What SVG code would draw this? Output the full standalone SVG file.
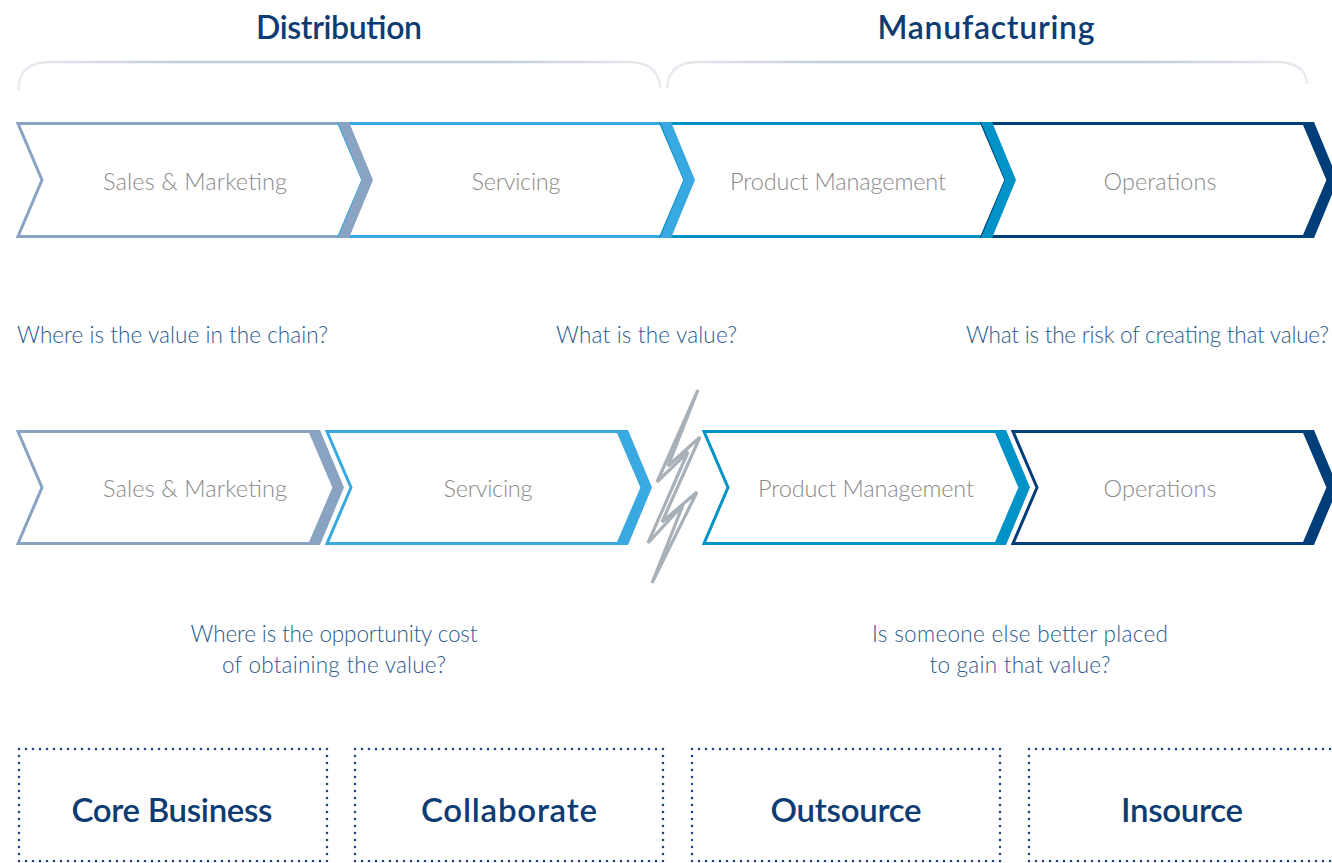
<svg xmlns="http://www.w3.org/2000/svg" width="1332" height="863" viewBox="0 0 1332 863">
<defs>
<linearGradient id="brace" x1="0" y1="0" x2="1" y2="0">
<stop offset="0" stop-color="#e8ebef"/>
<stop offset="0.25" stop-color="#c5ccd7"/>
<stop offset="0.75" stop-color="#c5ccd7"/>
<stop offset="1" stop-color="#e8ebef"/>
</linearGradient>
</defs>
<style>
.title{font-family:Lato,"Liberation Sans",sans-serif;font-weight:600;font-size:32px;fill:#0d3c73;text-anchor:middle}
.lbl{font-family:Lato,"Liberation Sans",sans-serif;font-weight:300;font-size:23.5px;fill:#8a8a8a;text-anchor:middle}
.q{font-family:Lato,"Liberation Sans",sans-serif;font-weight:300;font-size:22.5px;fill:#2c5a8c}
.box{fill:none;stroke:#1d4778;stroke-width:2.6;stroke-dasharray:0 7;stroke-linecap:round}
.bt{font-family:Lato,"Liberation Sans",sans-serif;font-weight:600;font-size:33px;fill:#0d3c73;text-anchor:middle}
.ol{fill:#fff;stroke-width:3;stroke-linejoin:miter}
.c1{stroke:#8aa3c2}.f1{fill:#8aa3c2}
.c2{stroke:#3aa9e1}.f2{fill:#3aa9e1}
.c3{stroke:#0093c7}.f3{fill:#0093c7}
.c4{stroke:#003e79}.f4{fill:#003e79}
</style>

<g id="headers">
<text class="title" x="339" y="39" textLength="166">Distribution</text>
<text class="title" x="986" y="39" textLength="217">Manufacturing</text>
<path d="M18.5,90 Q18.5,62 50,62 L628,62 Q659,62 660,88" fill="none" stroke="url(#brace)" stroke-width="2.4"/>
<path d="M667,88 Q668,62 699,62 L1276,62 Q1306,62 1307,84" fill="none" stroke="url(#brace)" stroke-width="2.4"/>
</g>

<g id="top-row">
<g id="top-sales">
<polygon class="ol c1" points="18,123.5 339,123.5 363,180 339,236.5 18,236.5 42,180"/>
</g>
<g id="top-servicing">
<polygon class="ol c2" points="339,123.5 661,123.5 685,180 661,236.5 339,236.5 363,180"/>
</g>
<g id="top-product">
<polygon class="ol c3" points="661,123.5 982,123.5 1006,180 982,236.5 661,236.5 685,180"/>
</g>
<g id="top-operations">
<polygon class="ol c4" points="982,123.5 1304,123.5 1328,180 1304,236.5 982,236.5 1006,180"/>
</g>
<polygon class="f1" points="338,122 349,122 373,180 349,238 338,238 362,180"/>
<polygon class="f2" points="660,122 671,122 695,180 671,238 660,238 684,180"/>
<polygon class="f3" points="981,122 992,122 1016,180 992,238 981,238 1005,180"/>
<polygon class="f4" points="1303,122 1314,122 1338,180 1314,238 1303,238 1327,180"/>
<text class="lbl" x="195" y="190" textLength="184">Sales &amp; Marketing</text>
<text class="lbl" x="516" y="190" textLength="89">Servicing</text>
<text class="lbl" x="838" y="190" textLength="216">Product Management</text>
<text class="lbl" x="1160" y="190" textLength="113">Operations</text>
</g>

<g id="questions-top">
<text class="q" x="17" y="343" textLength="311">Where is the value in the chain?</text>
<text class="q" x="556" y="343" textLength="181">What is the value?</text>
<text class="q" x="966" y="343" textLength="363">What is the risk of creating that value?</text>
</g>

<g id="bottom-row">
<g id="bot-sales">
<polygon class="ol c1" points="18,431.5 310,431.5 334,487.5 310,543.5 18,543.5 42,487.5"/>
<polygon class="f1" points="309,430 320,430 344,487.5 320,545 309,545 333,487.5"/>
<text class="lbl" x="195" y="497" textLength="184">Sales &amp; Marketing</text>
</g>
<g id="bot-servicing">
<polygon class="ol c2" points="327,431.5 618,431.5 642,487.5 618,543.5 327,543.5 351,487.5"/>
<polygon class="f2" points="617,430 628,430 652,487.5 628,545 617,545 641,487.5"/>
<text class="lbl" x="488" y="497" textLength="89">Servicing</text>
</g>
<g id="bot-product">
<polygon class="ol c3" points="704,431.5 996,431.5 1020,487.5 996,543.5 704,543.5 728,487.5"/>
<polygon class="f3" points="995,430 1006,430 1030,487.5 1006,545 995,545 1019,487.5"/>
<text class="lbl" x="866" y="497" textLength="216">Product Management</text>
</g>
<g id="bot-operations">
<polygon class="ol c4" points="1013,431.5 1304,431.5 1328,487.5 1304,543.5 1013,543.5 1037,487.5"/>
<polygon class="f4" points="1303,430 1314,430 1338,487.5 1314,545 1303,545 1327,487.5"/>
<text class="lbl" x="1160" y="497" textLength="113">Operations</text>
</g>
</g>

<g id="break">
<polygon points="698,390 668,466 700,437 662,522 697,492 652,583 683,505 648,543 688,452 657,482" fill="#fff" stroke="#a8b0b8" stroke-width="3.2" stroke-linejoin="miter"/>
</g>

<g id="questions-bottom">
<text class="q" x="334" y="642" text-anchor="middle" textLength="287">Where is the opportunity cost</text>
<text class="q" x="334" y="673" text-anchor="middle" textLength="224">of obtaining the value?</text>
<text class="q" x="1020" y="642" text-anchor="middle" textLength="296">Is someone else better placed</text>
<text class="q" x="1020" y="673" text-anchor="middle" textLength="181">to gain that value?</text>
</g>

<g id="box-core">
<rect class="box" x="19" y="749" width="308" height="112"/>
<text class="bt" x="172" y="822" textLength="201">Core Business</text>
</g>
<g id="box-collaborate">
<rect class="box" x="355" y="749" width="308" height="112"/>
<text class="bt" x="509" y="822" textLength="176">Collaborate</text>
</g>
<g id="box-outsource">
<rect class="box" x="692" y="749" width="308" height="112"/>
<text class="bt" x="846" y="822" textLength="151">Outsource</text>
</g>
<g id="box-insource">
<rect class="box" x="1029" y="749" width="308" height="112"/>
<text class="bt" x="1182" y="822" textLength="122">Insource</text>
</g>
</svg>
